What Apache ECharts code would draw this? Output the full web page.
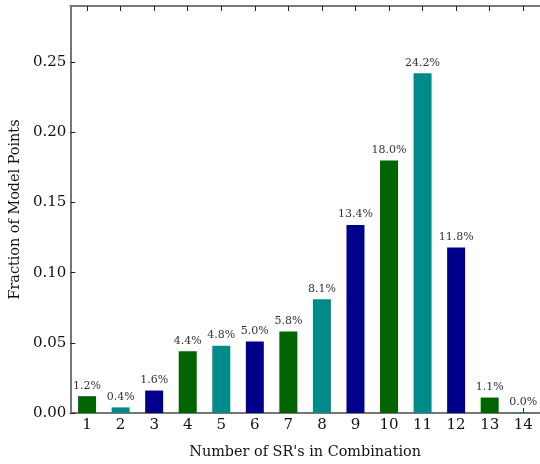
<!DOCTYPE html>
<html>
<head>
<meta charset="utf-8">
<script src="https://cdn.jsdelivr.net/npm/echarts@6/dist/echarts.min.js"></script>
<style>html,body{margin:0;padding:0;background:#fff}#c{width:540px;height:464px}</style>
</head>
<body>
<div id="c"></div>
<script>
const categories = ['1','2','3','4','5','6','7','8','9','10','11','12','13','14'];
const values = [0.012, 0.004, 0.016, 0.044, 0.048, 0.051, 0.058, 0.081, 0.134, 0.180, 0.242, 0.118, 0.011, 0.0004];
const labels = ['1.2%','0.4%','1.6%','4.4%','4.8%','5.0%','5.8%','8.1%','13.4%','18.0%','24.2%','11.8%','1.1%','0.0%'];
const palette = ['#006400', '#008b8b', '#00008b'];
const xTitle = "Number of SR's in Combination";
const yTitle = 'Fraction of Model Points';

const font = 'DejaVu Serif';
const chart = echarts.init(document.getElementById('c'), null, {renderer: 'canvas'});
const axisLine = {show: true, lineStyle: {color: '#777', width: 2}};
chart.setOption({
  animation: false,
  grid: {left: 62, top: 6, width: 479, height: 413},
  xAxis: [{
    type: 'category', data: categories, boundaryGap: true,
    axisLine: axisLine,
    axisTick: {show: true, inside: true, alignWithLabel: true, length: 5, lineStyle: {color: '#222'}},
    axisLabel: {color: '#111', fontFamily: font, fontSize: 15, margin: 5},
    name: xTitle, nameLocation: 'middle', nameGap: 32,
    nameTextStyle: {color: '#111', fontFamily: font, fontSize: 14.4}
  }, {
    type: 'category', data: categories, position: 'top', boundaryGap: true,
    axisLine: axisLine,
    axisTick: {show: true, inside: true, alignWithLabel: true, length: 5, lineStyle: {color: '#222'}},
    axisLabel: {show: false}
  }],
  yAxis: [{
    type: 'value', min: 0, max: 0.29, interval: 0.05,
    axisLine: axisLine,
    axisTick: {show: true, inside: true, length: 5, lineStyle: {color: '#222'}},
    splitLine: {show: false},
    axisLabel: {color: '#111', fontFamily: font, fontSize: 15, margin: 4, formatter: v => v.toFixed(2),
      showMaxLabel: false},
    name: yTitle, nameLocation: 'middle', nameGap: 48,
    nameTextStyle: {color: '#111', fontFamily: font, fontSize: 14.4}
  }],
  series: [{
    type: 'bar', xAxisIndex: 0, barWidth: 18,
    data: values.map((v, i) => ({value: v, itemStyle: {color: palette[i % 3]}})),
    label: {show: true, position: 'top', distance: 5, color: '#333', fontFamily: font, fontSize: 11,
      formatter: p => labels[p.dataIndex]}
  }]
});
</script>
</body>
</html>
